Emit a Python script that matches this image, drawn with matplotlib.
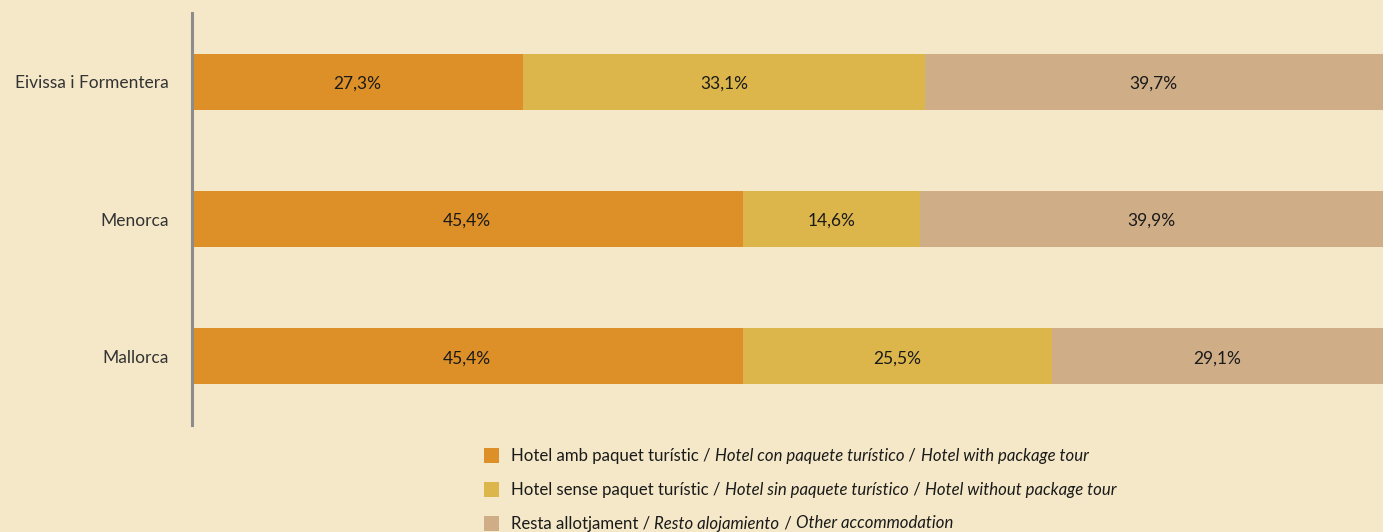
import matplotlib
matplotlib.use("Agg")
import matplotlib.pyplot as plt
from matplotlib.patches import Rectangle

categories = ["Mallorca", "Menorca", "Eivissa i Formentera"]
hotel_package = [45.4, 45.4, 27.3]
hotel_no_package = [25.5, 14.6, 33.1]
other_accommodation = [29.1, 39.9, 39.7]
series = [hotel_package, hotel_no_package, other_accommodation]
colors = ["#DD9028", "#DCB64A", "#CFAD87"]
legend_parts = [
    ("Hotel amb paquet turístic / ", "Hotel con paquete turístico", " / ", "Hotel with package tour"),
    ("Hotel sense paquet turístic / ", "Hotel sin paquete turístico", " / ", "Hotel without package tour"),
    ("Resta allotjament / ", "Resto alojamiento", " / ", "Other accommodation"),
]

BG = "#F5E8C8"
FONT = ["Lato", "DejaVu Sans"]
plt.rcParams["font.family"] = FONT

W, H = 1383, 532
fig = plt.figure(figsize=(W / 100, H / 100), dpi=100, facecolor=BG)
ax = fig.add_axes([192 / W, (H - 425) / H, 1 - 192 / W, (425 - 13) / H])
ax.set_facecolor(BG)

XMAX = 98.2
ypos = list(range(len(categories)))
left = [0.0] * len(categories)
for vals, col in zip(series, colors):
    ax.barh(ypos, vals, left=left, height=0.41, color=col, edgecolor="none")
    for i, v in enumerate(vals):
        x0 = left[i]
        x1 = min(left[i] + v, XMAX)
        ax.text((x0 + x1) / 2, ypos[i] - 0.015, f"{v:.1f}%".replace(".", ","),
                ha="center", va="center", fontsize=12.5, color="#1a1a1a")
    left = [l + v for l, v in zip(left, vals)]

ax.set_xlim(0, XMAX)
ax.set_ylim(-0.5, len(categories) - 0.5)
ax.set_yticks(ypos)
ax.set_yticklabels(categories, fontsize=12.5, color="#333333")
ax.tick_params(axis="y", length=0, pad=17)
ax.set_xticks([])
for s in ["top", "right", "bottom"]:
    ax.spines[s].set_visible(False)
ax.spines["left"].set_color("#8c8c8c")
ax.spines["left"].set_linewidth(2.2)

# Legend with mixed upright/italic text
fig.canvas.draw()
renderer = fig.canvas.get_renderer()
legend_y = [455, 489, 523]
for parts, col, yc in zip(legend_parts, colors, legend_y):
    fig.add_artist(Rectangle((484 / W, (H - yc - 7.5) / H), 15 / W, 15 / H,
                             transform=fig.transFigure, facecolor=col, edgecolor="none"))
    xpix = 511
    ybase = (H - yc - 5.5) / H
    for j, p in enumerate(parts):
        style = "italic" if j in (1, 3) else "normal"
        t = fig.text(xpix / W, ybase, p, fontsize=12.1, color="#1a1a1a", style=style,
                     va="baseline", ha="left")
        ext = t.get_window_extent(renderer=renderer)
        xpix = ext.x1

fig.savefig("out.png", dpi=100, facecolor=BG)
